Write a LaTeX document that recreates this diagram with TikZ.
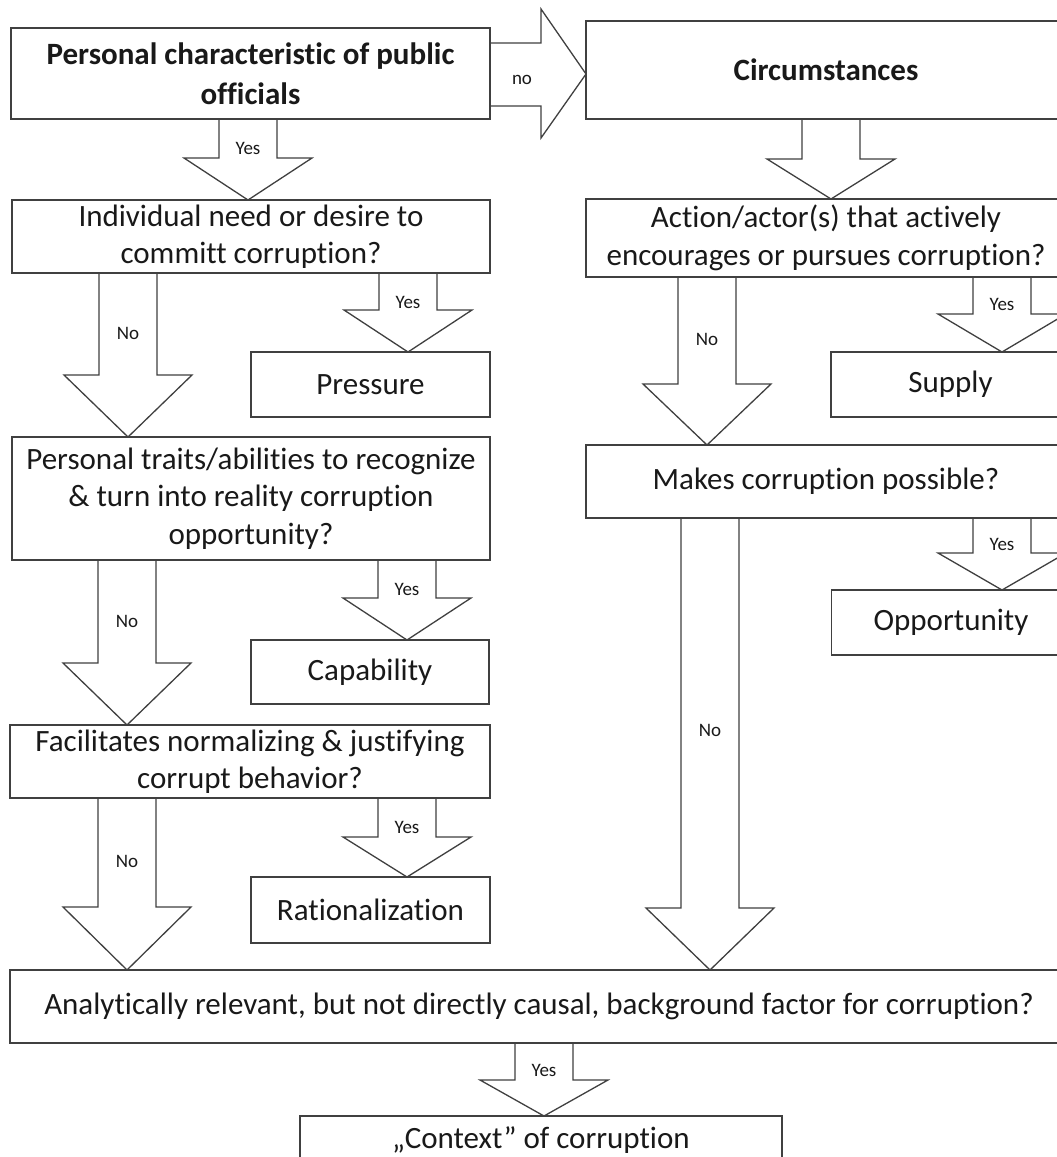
\documentclass[tikz,border=0pt]{standalone}
\usepackage{fontspec}
\setmainfont{Carlito}[Ligatures=NoCommon]
\usetikzlibrary{calc}

\tikzset{
  box/.style={draw=black!75, line width=1.3pt, rectangle, inner sep=0pt, outer sep=0pt,
    align=center, text=black!90, font=\fontsize{31}{37.5}\selectfont},
  boldbox/.style={box, font=\fontsize{31}{39.5}\selectfont\bfseries},
  blockarrow/.style={draw=black!75, line width=1.3pt, line join=miter},
  flowlabel/.style={font=\fontsize{19}{22}\selectfont, text=black!90, inner sep=0pt}
}

% x position, from, to, head length, label
\newcommand{\flowarrow}[6][0.37]{%
  \draw[blockarrow] let \p1=(#3.south), \p2=(#4.north) in
    (#2pt-29pt,\y1) -- (#2pt-29pt,\y2+#5pt) -- (#2pt-64pt,\y2+#5pt) -- (#2pt,\y2)
    -- (#2pt+64pt,\y2+#5pt) -- (#2pt+29pt,\y2+#5pt) -- (#2pt+29pt,\y1);
  \path let \p1=(#3.south), \p2=(#4.north) in
    (#2pt,\y1) -- (#2pt,\y2) node[flowlabel, pos=#1] {#6};
}

\begin{document}
\begin{tikzpicture}[x=1pt, y=-1pt]
  \useasboundingbox (0,0) rectangle (1057,1157);
  \fill[white] (0,0) rectangle (1057,1157);
  \clip (0,0) rectangle (1057,1157);

  \node[boldbox, minimum width=479pt, minimum height=91pt] (pers) at (250.5,73.5)
    {Personal characteristic of public\\officials};
  \node[boldbox, minimum width=480pt, minimum height=98pt] (circ) at (826,70) {Circumstances};

  \node[box, minimum width=478pt, minimum height=73pt] (indiv) at (251,236.5)
    {Individual need or desire to\\committ corruption?};
  \node[box, minimum width=480pt, minimum height=78pt] (action) at (826,238)
    {Action/actor(s) that actively\\encourages or pursues corruption?};
  \node[box, minimum width=239pt, minimum height=65pt] (pressure) at (370.5,384.5) {Pressure};
  \node[box, minimum width=239pt, minimum height=65pt] (supply) at (950.5,384.5) {Supply};

  \node[box, minimum width=478pt, minimum height=123pt] (traits) at (251,498.5)
    {Personal traits/abilities to recognize\\\& turn into reality corruption\\opportunity?};
  \node[box, minimum width=480pt, minimum height=73pt] (makes) at (826,481.5)
    {Makes corruption possible?};
  \node[box, minimum width=238pt, minimum height=64pt] (capability) at (370,672) {Capability};
  \node[box, minimum width=239pt, minimum height=65pt] (opportunity) at (951,622.5) {Opportunity};

  \node[box, minimum width=480pt, minimum height=73pt] (facil) at (250,761.5)
    {Facilitates normalizing \& justifying\\corrupt behavior?};
  \node[box, minimum width=239pt, minimum height=66pt] (ration) at (370.5,910) {Rationalization};

  \node[box, minimum width=1058pt, minimum height=73pt] (analyt) at (539,1006.5)
    {Analytically relevant, but not directly causal, background factor for corruption?};
  \node[box, minimum width=482pt, minimum height=48pt] (context) at (541,1140)
    {„Context” of corruption};

  \draw[blockarrow] let \p1=(pers.east), \p2=(circ.west) in
    (\x1,-43pt) -- (\x2-45pt,-43pt) -- (\x2-45pt,-9pt) -- (\x2,-74pt)
    -- (\x2-45pt,-138pt) -- (\x2-45pt,-106pt) -- (\x1,-106pt);
  \node[flowlabel] (nolabel) at (522,80) {no};

  \flowarrow{248}{pers}{indiv}{42}{Yes}
  \flowarrow{831}{circ}{action}{40}{}
  \flowarrow{128}{indiv}{traits}{62}{No}
  \flowarrow{408}{indiv}{pressure}{42}{Yes}
  \flowarrow{707}{action}{makes}{61}{No}
  \flowarrow{1002}{action}{supply}{38}{Yes}
  \flowarrow{127}{traits}{facil}{62}{No}
  \flowarrow{407}{traits}{capability}{42}{Yes}
  \flowarrow{1002}{makes}{opportunity}{37}{Yes}
  \flowarrow[0.47]{710}{makes}{analyt}{62}{No}
  \flowarrow{127}{facil}{analyt}{63}{No}
  \flowarrow{407}{facil}{ration}{40}{Yes}
  \flowarrow{544}{analyt}{context}{36}{Yes}
\end{tikzpicture}
\end{document}
